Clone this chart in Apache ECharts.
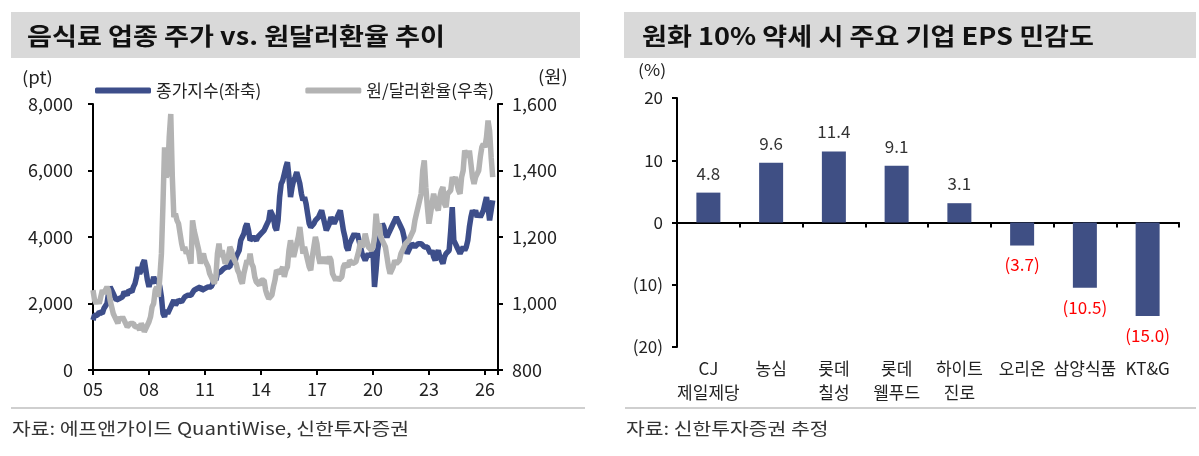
<!DOCTYPE html>
<html>
<head>
<meta charset="utf-8">
<script src="https://cdn.jsdelivr.net/npm/echarts@6/dist/echarts.min.js"></script>
<style>
html, body { margin: 0; padding: 0; background: #fff; }
#main { width: 1199px; height: 456px; }
</style>
</head>
<body>
<div id="main"></div>
<script>
var FONT = '"Noto Sans CJK KR", "Noto Sans", sans-serif';

// 월별 데이터, 2005-01 부터
var yearTicks = ['05', '08', '11', '14', '17', '20', '23', '26'];
var stockIdx = [
  1500, 1650, 1700, 1650, 1750, 1800, 1700, 1850, 1800, 2000, 2300, 2500, // 05
  2450, 2300, 2200, 2100, 2050, 2150, 2100, 2200, 2350, 2300, 2250, 2400, // 06
  2400, 2350, 2500, 2600, 2800, 3100, 2900, 3000, 3200, 3300, 3000, 2700, // 07
  2500, 2700, 2600, 2800, 2650, 2600, 2700, 2500, 2200, 1700, 1600, 1800, // 08
  1700, 1750, 1900, 2000, 2100, 1950, 2000, 2100, 2150, 2050, 2100, 2200, // 09
  2200, 2250, 2300, 2250, 2300, 2400, 2350, 2450, 2400, 2500, 2400, 2450, // 10
  2450, 2400, 2500, 2550, 2500, 2600, 2800, 2700, 2900, 2850, 2950, 3000, // 11
  3050, 3000, 3100, 3150, 3100, 3300, 3250, 3200, 3400, 3500, 3600, 3900, // 12
  4000, 4100, 4300, 4400, 4200, 3900, 3900, 4000, 3950, 3900, 4000, 4050, // 13
  4100, 4050, 4200, 4300, 4400, 4500, 4800, 4700, 4600, 4300, 4200, 4500, // 14
  5200, 5600, 5700, 5900, 6100, 6250, 5800, 5200, 5500, 5700, 5800, 5950, // 15
  5900, 5600, 5300, 5100, 5200, 5000, 4700, 4400, 4300, 4350, 4400, 4500, // 16
  4500, 4600, 4700, 4800, 4600, 4400, 4200, 4300, 4400, 4600, 4500, 4400, // 17
  4500, 4600, 4700, 4800, 4500, 4200, 4000, 3700, 3600, 3800, 3900, 4000, // 18
  4100, 4000, 4100, 3900, 3700, 3500, 3400, 3300, 3400, 3500, 3400, 3500, // 19
  3600, 2500, 3000, 3600, 3900, 4100, 4400, 4300, 4100, 4000, 4100, 4200, // 20
  4300, 4400, 4500, 4600, 4500, 4400, 4300, 4200, 4000, 3700, 3500, 3600, // 21
  3700, 3800, 3800, 3700, 3750, 3800, 3850, 3800, 3750, 3700, 3650, 3700, // 22
  3600, 3500, 3600, 3400, 3300, 3500, 3600, 3400, 3300, 3200, 3400, 3500, // 23
  3500, 3600, 4200, 4900, 3900, 3800, 3700, 3600, 3500, 3600, 3700, 3600, // 24
  3700, 3900, 4300, 4600, 4800, 4700, 4800, 4600, 4700, 4600, 4700, 4800, // 25
  5000, 5200, 4900, 4500, 4800, 5100                                      // 26
];
var usdKrw = [
  1040, 1010, 1000, 1010, 1000, 1020, 1040, 1030, 1030, 1050, 1040, 1010, // 05
  990, 970, 960, 950, 940, 960, 950, 960, 950, 940, 930, 930,             // 06
  940, 940, 940, 930, 930, 930, 920, 940, 930, 915, 920, 935,             // 07
  945, 960, 990, 1000, 1040, 1050, 1020, 1080, 1150, 1300, 1470, 1380,   // 08
  1390, 1500, 1570, 1380, 1260, 1270, 1250, 1240, 1210, 1180, 1160, 1170, // 09
  1150, 1160, 1140, 1120, 1250, 1220, 1200, 1180, 1160, 1120, 1140, 1150, // 10
  1130, 1120, 1110, 1090, 1080, 1080, 1060, 1080, 1150, 1180, 1140, 1160, // 11
  1140, 1120, 1130, 1140, 1170, 1160, 1140, 1130, 1120, 1100, 1090, 1070, // 12
  1060, 1090, 1110, 1130, 1120, 1150, 1120, 1110, 1080, 1065, 1060, 1055, // 13
  1070, 1070, 1070, 1040, 1025, 1015, 1020, 1025, 1050, 1070, 1100, 1100, // 14
  1090, 1100, 1110, 1080, 1100, 1110, 1160, 1190, 1190, 1140, 1160, 1180, // 15
  1200, 1230, 1190, 1150, 1170, 1170, 1130, 1110, 1100, 1140, 1170, 1200, // 16
  1180, 1140, 1120, 1140, 1120, 1140, 1120, 1130, 1140, 1130, 1090, 1080, // 17
  1070, 1080, 1070, 1070, 1080, 1110, 1120, 1120, 1110, 1130, 1130, 1120, // 18
  1120, 1125, 1130, 1160, 1190, 1170, 1180, 1210, 1190, 1170, 1170, 1160, // 19
  1170, 1200, 1270, 1230, 1240, 1200, 1190, 1185, 1170, 1140, 1110, 1090, // 20
  1100, 1110, 1130, 1120, 1120, 1130, 1150, 1160, 1170, 1180, 1180, 1190, // 21
  1200, 1200, 1220, 1250, 1270, 1290, 1310, 1330, 1400, 1430, 1350, 1290, // 22
  1240, 1270, 1300, 1330, 1330, 1290, 1280, 1320, 1340, 1350, 1300, 1290, // 23
  1330, 1330, 1340, 1380, 1370, 1380, 1385, 1340, 1330, 1380, 1400, 1460, // 24
  1450, 1440, 1460, 1420, 1380, 1360, 1380, 1390, 1400, 1440, 1470, 1480, // 25
  1470, 1500, 1550, 1520, 1440, 1380                                      // 26
];

var companies = ['CJ\n제일제당', '농심', '롯데\n칠성', '롯데\n웰푸드', '하이트\n진로', '오리온', '삼양식품', 'KT&G'];
var epsSens = [4.8, 9.6, 11.4, 9.1, 3.1, -3.7, -10.5, -15.0];

function toMonthly(vals) {
  return vals.map(function (v, i) { return [i / 12, v]; });
}

function paren(v) {
  return v < 0 ? '(' + Math.abs(v) + ')' : String(v);
}

var barData = epsSens.map(function (v) {
  var neg = v < 0;
  return {
    value: v,
    label: {
      show: true,
      position: neg ? 'bottom' : 'top',
      distance: 11,
      color: neg ? '#ff0000' : '#333',
      formatter: neg ? '(' + Math.abs(v).toFixed(1) + ')' : v.toFixed(1)
    }
  };
});

var chart = echarts.init(document.getElementById('main'));

var axisText = { color: '#222', fontSize: 18, fontFamily: FONT };
var blackLine = { show: true, lineStyle: { color: '#000', width: 2 } };
var blackTick = { show: true, length: 5, lineStyle: { color: '#000', width: 2 } };

function label(x, y, text, size, scale, weight, color) {
  return {
    type: 'text', x: x, y: y, scaleX: scale,
    style: { text: text, font: (weight || '') + ' ' + size + 'px ' + FONT, fill: color || '#222', verticalAlign: 'middle' }
  };
}

var option = {
  animation: false,
  textStyle: { fontFamily: FONT },
  graphic: [
    { type: 'rect', shape: { x: 11, y: 12, width: 569, height: 46 }, style: { fill: '#d9d9d9' } },
    { type: 'rect', shape: { x: 624, y: 12, width: 572, height: 46 }, style: { fill: '#d9d9d9' } },
    label(27, 36, '음식료 업종 주가 vs. 원달러환율 추이', 24, 1.13, 'bold', '#111'),
    label(642, 36, '원화 10% 약세 시 주요 기업 EPS 민감도', 24, 1.13, 'bold', '#111'),
    label(22, 78, '(pt)', 17, 1.1),
    label(538, 77, '(원)', 17, 1.1),
    label(638, 70, '(%)', 16, 1.1),
    { type: 'line', shape: { x1: 11, y1: 408, x2: 585, y2: 408 }, style: { stroke: '#bfbfbf', lineWidth: 1.5 } },
    { type: 'line', shape: { x1: 625, y1: 408, x2: 1196, y2: 408 }, style: { stroke: '#bfbfbf', lineWidth: 1.5 } },
    label(12, 429, '자료: 에프앤가이드 QuantiWise, 신한투자증권', 17, 1.2, '', '#333'),
    label(626, 429, '자료: 신한투자증권 추정', 17, 1.2, '', '#333')
  ],
  legend: {
    left: 90, top: 77,
    itemWidth: 56, itemHeight: 6, itemGap: 44,
    icon: 'roundRect',
    textStyle: { fontSize: 17, color: '#222', fontFamily: FONT },
    data: ['종가지수(좌축)', '원/달러환율(우축)']
  },
  grid: [
    { left: 93, top: 104, width: 405, height: 266 },
    { left: 677, top: 98, width: 502, height: 249 }
  ],
  xAxis: [
    {
      type: 'value', gridIndex: 0, min: 0, max: 21.7, interval: 3,
      axisLine: blackLine,
      axisTick: blackTick,
      axisLabel: {
        margin: 10, color: '#222', fontSize: 18, fontFamily: FONT,
        formatter: function (v) {
          var k = Math.round(v / 3);
          return Math.abs(v - k * 3) < 1e-6 ? yearTicks[k] : '';
        }
      },
      splitLine: { show: false }
    },
    {
      type: 'category', gridIndex: 1, data: companies,
      axisLine: { show: true, onZero: true, lineStyle: { color: '#000', width: 2 } },
      axisTick: blackTick,
      axisLabel: { show: false }
    },
    {
      type: 'category', gridIndex: 1, data: companies, position: 'bottom',
      axisLine: { show: false, onZero: false },
      axisTick: { show: false },
      axisLabel: { margin: 10, color: '#222', fontSize: 17, lineHeight: 24, fontFamily: FONT, interval: 0 }
    }
  ],
  yAxis: [
    {
      type: 'value', gridIndex: 0, min: 0, max: 8000, interval: 2000, position: 'left',
      axisLine: blackLine,
      axisTick: blackTick,
      axisLabel: Object.assign({ margin: 20, formatter: function (v) { return echarts.format.addCommas(v); } }, axisText),
      splitLine: { show: false }
    },
    {
      type: 'value', gridIndex: 0, min: 800, max: 1600, interval: 200, position: 'right',
      axisLine: blackLine,
      axisTick: blackTick,
      axisLabel: Object.assign({ margin: 14, formatter: function (v) { return echarts.format.addCommas(v); } }, axisText),
      splitLine: { show: false }
    },
    {
      type: 'value', gridIndex: 1, min: -20, max: 20, interval: 10,
      axisLine: blackLine,
      axisTick: blackTick,
      axisLabel: { margin: 14, color: '#222', fontSize: 17, fontFamily: FONT, formatter: paren },
      splitLine: { show: false }
    }
  ],
  series: [
    {
      name: '종가지수(좌축)', type: 'line', xAxisIndex: 0, yAxisIndex: 0,
      data: toMonthly(stockIdx), showSymbol: false,
      lineStyle: { color: '#3d4e8a', width: 5.5 }, itemStyle: { color: '#3d4e8a' }
    },
    {
      name: '원/달러환율(우축)', type: 'line', xAxisIndex: 0, yAxisIndex: 1,
      data: toMonthly(usdKrw), showSymbol: false,
      lineStyle: { color: '#b3b3b3', width: 5.5 }, itemStyle: { color: '#b3b3b3' }
    },
    {
      name: 'EPS 민감도', type: 'bar', xAxisIndex: 1, yAxisIndex: 2,
      data: barData, barWidth: 24,
      itemStyle: { color: '#3f4f84' },
      label: { show: true, fontSize: 17, fontFamily: FONT }
    }
  ]
};

chart.setOption(option);
</script>
</body>
</html>
